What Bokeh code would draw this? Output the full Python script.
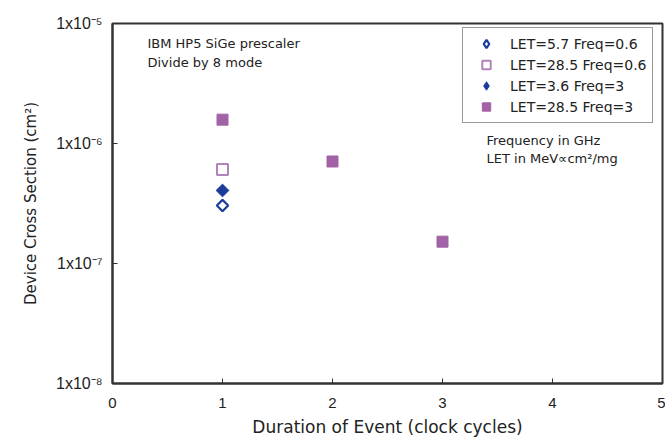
import math
from bokeh.plotting import figure
from bokeh.models import FixedTicker, Legend, LegendItem, Label
from bokeh.embed import file_html
from bokeh.resources import INLINE

# data
x_let57_f06 = [1]
y_let57_f06 = [3.04e-7]
x_let285_f06 = [1]
y_let285_f06 = [6.07e-7]
x_let36_f3 = [1]
y_let36_f3 = [4.06e-7]
x_let285_f3 = [1, 2, 3]
y_let285_f3 = [1.58e-6, 7.08e-7, 1.52e-7]

x_ticks = [0, 1, 2, 3, 4, 5]
y_ticks = [1e-8, 1e-7, 1e-6, 1e-5]
y_tick_labels = {1e-8: "1x10⁻⁸", 1e-7: "1x10⁻⁷", 1e-6: "1x10⁻⁶", 1e-5: "1x10⁻⁵"}

FONT = "Liberation Sans"
WIDE = "DejaVu Sans"
BLUE = "#1c3c9c"
PURPLE = "#a263a6"
LPURPLE = "#b084b8"
INK = "#222222"

p = figure(width=665, height=445, output_backend="svg", toolbar_location=None,
           y_axis_type="log", x_range=(0, 5), y_range=(1e-8, 1e-5),
           min_border_left=112, min_border_top=23, min_border_bottom=62, min_border_right=3)
p.xgrid.visible = False
p.ygrid.visible = False
p.outline_line_color = "#333333"
p.outline_line_width = 2
p.background_fill_color = "white"

for ax in (p.xaxis[0], p.yaxis[0]):
    ax.axis_line_color = "#333333"
    ax.axis_line_width = 2
    ax.major_tick_in = 5
    ax.major_tick_out = 0
    ax.major_tick_line_color = "#333333"
    ax.minor_tick_line_color = None
    ax.major_label_text_font = FONT
    ax.major_label_text_color = INK
    ax.axis_label_text_font = WIDE
    ax.axis_label_text_font_style = "normal"
    ax.axis_label_text_color = INK

p.xaxis.major_label_text_font_size = "15px"
p.yaxis.major_label_text_font_size = "16px"
p.xaxis.axis_label_text_font_size = "17px"
p.yaxis.axis_label_text_font_size = "15px"
p.xaxis.ticker = FixedTicker(ticks=x_ticks)
p.yaxis.ticker = FixedTicker(ticks=y_ticks)
p.yaxis.major_label_overrides = y_tick_labels
p.xaxis.axis_label = "Duration of Event (clock cycles)"
p.yaxis.axis_label = "Device Cross Section (cm²)"
p.xaxis.major_label_standoff = 14
p.yaxis.major_label_standoff = 10
p.xaxis.axis_label_standoff = 6
p.yaxis.axis_label_standoff = 13

# plotted marks (diamonds drawn as rotated squares)
p.scatter(x_let57_f06, y_let57_f06, marker="square", angle=math.pi / 4, size=8,
          fill_color="white", line_color=BLUE, line_width=2.2)
r2 = p.scatter(x_let285_f06, y_let285_f06, marker="square", size=11,
               fill_color="white", line_color=LPURPLE, line_width=2)
p.scatter(x_let36_f3, y_let36_f3, marker="square", angle=math.pi / 4, size=9,
          fill_color=BLUE, line_color=BLUE)
r4 = p.scatter(x_let285_f3, y_let285_f3, marker="square", size=11,
               fill_color=PURPLE, line_color=PURPLE)

# hidden renderers whose glyphs are shown in the legend for the diamond series
r1 = p.scatter(x_let57_f06, y_let57_f06, marker="diamond", size=14,
               fill_color="white", line_color=BLUE, line_width=2.2, visible=False)
r3 = p.scatter(x_let36_f3, y_let36_f3, marker="diamond", size=15,
               fill_color=BLUE, line_color=BLUE, visible=False)

legend = Legend(items=[
    LegendItem(label="LET=5.7 Freq=0.6", renderers=[r1]),
    LegendItem(label="LET=28.5 Freq=0.6", renderers=[r2]),
    LegendItem(label="LET=3.6 Freq=3", renderers=[r3]),
    LegendItem(label="LET=28.5 Freq=3", renderers=[r4]),
], location=(350, 260))
legend.label_text_font = WIDE
legend.label_text_font_size = "14px"
legend.label_text_color = INK
legend.border_line_color = "#333333"
legend.border_line_width = 1.5
legend.spacing = 0
legend.padding = 5
legend.label_height = 21
legend.glyph_height = 21
legend.glyph_width = 36
legend.label_standoff = 6
legend.margin = 0
legend.inactive_fill_alpha = 0
p.add_layout(legend)

for txt, xx, yy in [("IBM HP5 SiGe prescaler", 0.318, 6.8e-6),
                    ("Divide by 8 mode", 0.318, 4.73e-6),
                    ("Frequency in GHz", 3.40, 1.06e-6),
                    ("LET in MeV∝cm²/mg", 3.40, 7.5e-7)]:
    p.add_layout(Label(x=xx, y=yy, text=txt, text_font=WIDE, text_font_size="13px",
                       text_color=INK, text_baseline="middle"))

open("out.html", "w").write(file_html(p, INLINE))
